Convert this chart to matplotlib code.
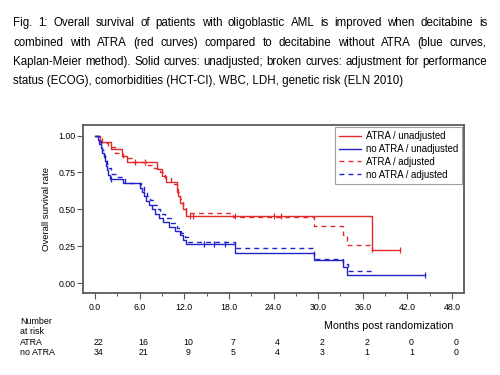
import numpy as np
import matplotlib
matplotlib.use('Agg')
from matplotlib import pyplot as plt
from matplotlib.ticker import MultipleLocator, FormatStrFormatter
import matplotlib.transforms as mtransforms

plt.rcParams['font.family'] = ['Liberation Sans', 'DejaVu Sans']

# Kaplan-Meier steps: (time in months, survival after the step)
atra_t = [0, 0.7, 2.2, 3.6, 4.3, 8.3, 9.0, 9.6, 11.0, 11.2, 11.5, 11.8, 12.3, 37.3]
atra_s = [1.0, 0.955, 0.909, 0.864, 0.818, 0.773, 0.727, 0.682, 0.636, 0.591, 0.545, 0.500, 0.455, 0.227]
atra_end = 41.0
atra_cens = [5.4, 6.7, 12.8, 13.2, 18.8, 24.0, 25.0, 41.0]

noatra_t = [0, 0.4, 0.6, 0.8, 1.0, 1.2, 1.35, 1.5, 1.65, 1.8, 2.0, 3.8, 6.0, 6.3, 6.6, 6.9,
            7.3, 7.7, 8.1, 8.6, 9.1, 9.9, 10.8, 11.4, 11.9, 12.3, 18.8, 29.4, 33.3, 33.9]
noatra_s = [1.0, 0.971, 0.941, 0.912, 0.882, 0.853, 0.824, 0.794, 0.765, 0.735, 0.706, 0.676,
            0.647, 0.618, 0.588, 0.559, 0.529, 0.500, 0.471, 0.441, 0.412, 0.382, 0.353, 0.324,
            0.294, 0.265, 0.206, 0.157, 0.112, 0.056]
noatra_end = 44.4
noatra_cens = [2.2, 14.6, 16.0, 17.5, 44.4]

atra_adj_t = [0, 1.0, 1.8, 2.7, 3.8, 5.0, 7.0, 8.0, 8.7, 9.4, 10.2, 11.0, 11.4, 11.8, 12.2,
              18.6, 29.4, 33.3, 33.9, 37.3]
atra_adj_s = [1.0, 0.95, 0.92, 0.88, 0.85, 0.82, 0.80, 0.78, 0.75, 0.71, 0.67, 0.62, 0.57,
              0.52, 0.477, 0.446, 0.387, 0.326, 0.259, 0.19]
atra_adj_end = 37.3

noatra_adj_t = [0, 0.5, 0.8, 1.0, 1.2, 1.4, 1.6, 1.8, 2.2, 3.0, 4.0, 6.2, 6.6, 7.0, 7.4, 7.8,
                8.3, 8.8, 9.4, 10.2, 11.0, 11.6, 12.1, 12.5, 18.8, 29.4, 33.3, 34.0]
noatra_adj_s = [1.0, 0.96, 0.93, 0.90, 0.87, 0.84, 0.81, 0.78, 0.74, 0.72, 0.675, 0.65, 0.62,
                0.59, 0.56, 0.53, 0.50, 0.47, 0.44, 0.41, 0.375, 0.34, 0.31, 0.28, 0.24,
                0.162, 0.13, 0.085]
noatra_adj_end = 37.3

risk_times = [0, 6, 12, 18, 24, 30, 36, 42, 48]
risk_atra = [22, 16, 10, 7, 4, 2, 2, 0, 0]
risk_noatra = [34, 21, 9, 5, 4, 3, 1, 1, 0]

caption = ["Fig. 1: Overall survival of patients with oligoblastic AML is improved when decitabine is",
           "combined with ATRA (red curves) compared to decitabine without ATRA (blue curves,",
           "Kaplan-Meier method). Solid curves: unadjusted; broken curves: adjustment for performance",
           "status (ECOG), comorbidities (HCT-CI), WBC, LDH, genetic risk (ELN 2010)"]

RED = '#e22a2a'
BLUE = '#2222cc'
GREY = '#5a5a5a'


def steps(t, s, end):
    x, y = [t[0]], [s[0]]
    for i in range(1, len(t)):
        x += [t[i], t[i]]
        y += [s[i - 1], s[i]]
    x.append(end)
    y.append(s[-1])
    return x, y


def surv_at(t, s, times):
    idx = np.searchsorted(t, times, side='right') - 1
    return np.array(s)[idx]


fig = plt.figure(figsize=(5, 3.75), dpi=100)
ax = fig.add_axes([0.166, 0.219, 0.762, 0.448])

x, y = steps(atra_t, atra_s, atra_end)
ax.plot(x, y, color=RED, lw=1.0, label='ATRA / unadjusted')
x, y = steps(noatra_t, noatra_s, noatra_end)
ax.plot(x, y, color=BLUE, lw=1.0, label='no ATRA / unadjusted')
x, y = steps(atra_adj_t, atra_adj_s, atra_adj_end)
ax.plot(x, y, color=RED, lw=1.0, ls=(0, (3.5, 3)), label='ATRA / adjusted')
x, y = steps(noatra_adj_t, noatra_adj_s, noatra_adj_end)
ax.plot(x, y, color=BLUE, lw=1.0, ls=(0, (3.5, 3)), label='no ATRA / adjusted')

ax.plot(atra_cens, surv_at(atra_t, atra_s, atra_cens), ls='none', marker='|',
        ms=5, mew=0.9, color=RED)
ax.plot(noatra_cens, surv_at(noatra_t, noatra_s, noatra_cens), ls='none', marker='|',
        ms=5, mew=0.9, color=BLUE)

ax.set_xlim(-1.6, 49.6)
ax.set_ylim(-0.066, 1.072)
ax.xaxis.set_major_locator(MultipleLocator(6))
ax.xaxis.set_minor_locator(MultipleLocator(3))
ax.xaxis.set_major_formatter(FormatStrFormatter('%.1f'))
ax.yaxis.set_major_locator(MultipleLocator(0.25))
ax.yaxis.set_major_formatter(FormatStrFormatter('%.2f'))
ax.tick_params(which='major', length=4, width=0.8, color=GREY, labelsize=6.3, pad=3)
ax.tick_params(which='minor', length=2, width=0.7, color=GREY)
ax.tick_params(axis='y', pad=1.5)
for sp in ax.spines.values():
    sp.set_color(GREY)
    sp.set_linewidth(1.3)
ax.set_ylabel('Overall survival rate', fontsize=6.8, labelpad=5)

leg = ax.legend(loc='upper right', fontsize=6.9, frameon=True, fancybox=False,
                handlelength=2.3, handletextpad=0.45, labelspacing=0.3,
                borderpad=0.45, borderaxespad=0.2)
leg.get_frame().set_edgecolor('#888888')
leg.get_frame().set_linewidth(0.8)

# number at risk table
tr = mtransforms.blended_transform_factory(ax.transData, fig.transFigure)
off = mtransforms.offset_copy(tr, fig=fig, x=4, y=0, units='dots')
for t, a, b in zip(risk_times, risk_atra, risk_noatra):
    fig.text(t, 1 - 342.7 / 375, str(a), transform=off, ha='center', va='center', fontsize=6.3)
    fig.text(t, 1 - 352.7 / 375, str(b), transform=off, ha='center', va='center', fontsize=6.3)
fig.text(20 / 500, 1 - 321 / 375, 'Number', ha='left', va='center', fontsize=6.4)
fig.text(20 / 500, 1 - 331.7 / 375, 'at risk', ha='left', va='center', fontsize=6.4)
fig.text(20 / 500, 1 - 342.7 / 375, 'ATRA', ha='left', va='center', fontsize=6.4)
fig.text(20 / 500, 1 - 352.7 / 375, 'no ATRA', ha='left', va='center', fontsize=6.4)
fig.text(453 / 500, 1 - 326 / 375, 'Months post randomization', ha='right', va='center',
         fontsize=7.7)

# caption, justified like the original
renderer = fig.canvas.get_renderer()
x0, x1 = 13 / 500, 487 / 500
line_y = [22.7, 42.7, 62, 80.7]
for k, line in enumerate(caption):
    yy = 1 - line_y[k] / 375
    if k == len(caption) - 1:
        fig.text(x0, yy, line, ha='left', va='center', fontsize=8.3)
        continue
    words = line.split(' ')
    txts = [fig.text(0, yy, w, ha='left', va='center', fontsize=8.3) for w in words]
    widths = [t.get_window_extent(renderer).width / fig.bbox.width for t in txts]
    gap = (x1 - x0 - sum(widths)) / (len(words) - 1)
    pos = x0
    for t, w in zip(txts, widths):
        t.set_x(pos)
        pos += w + gap

fig.savefig('out.png', dpi=100)
